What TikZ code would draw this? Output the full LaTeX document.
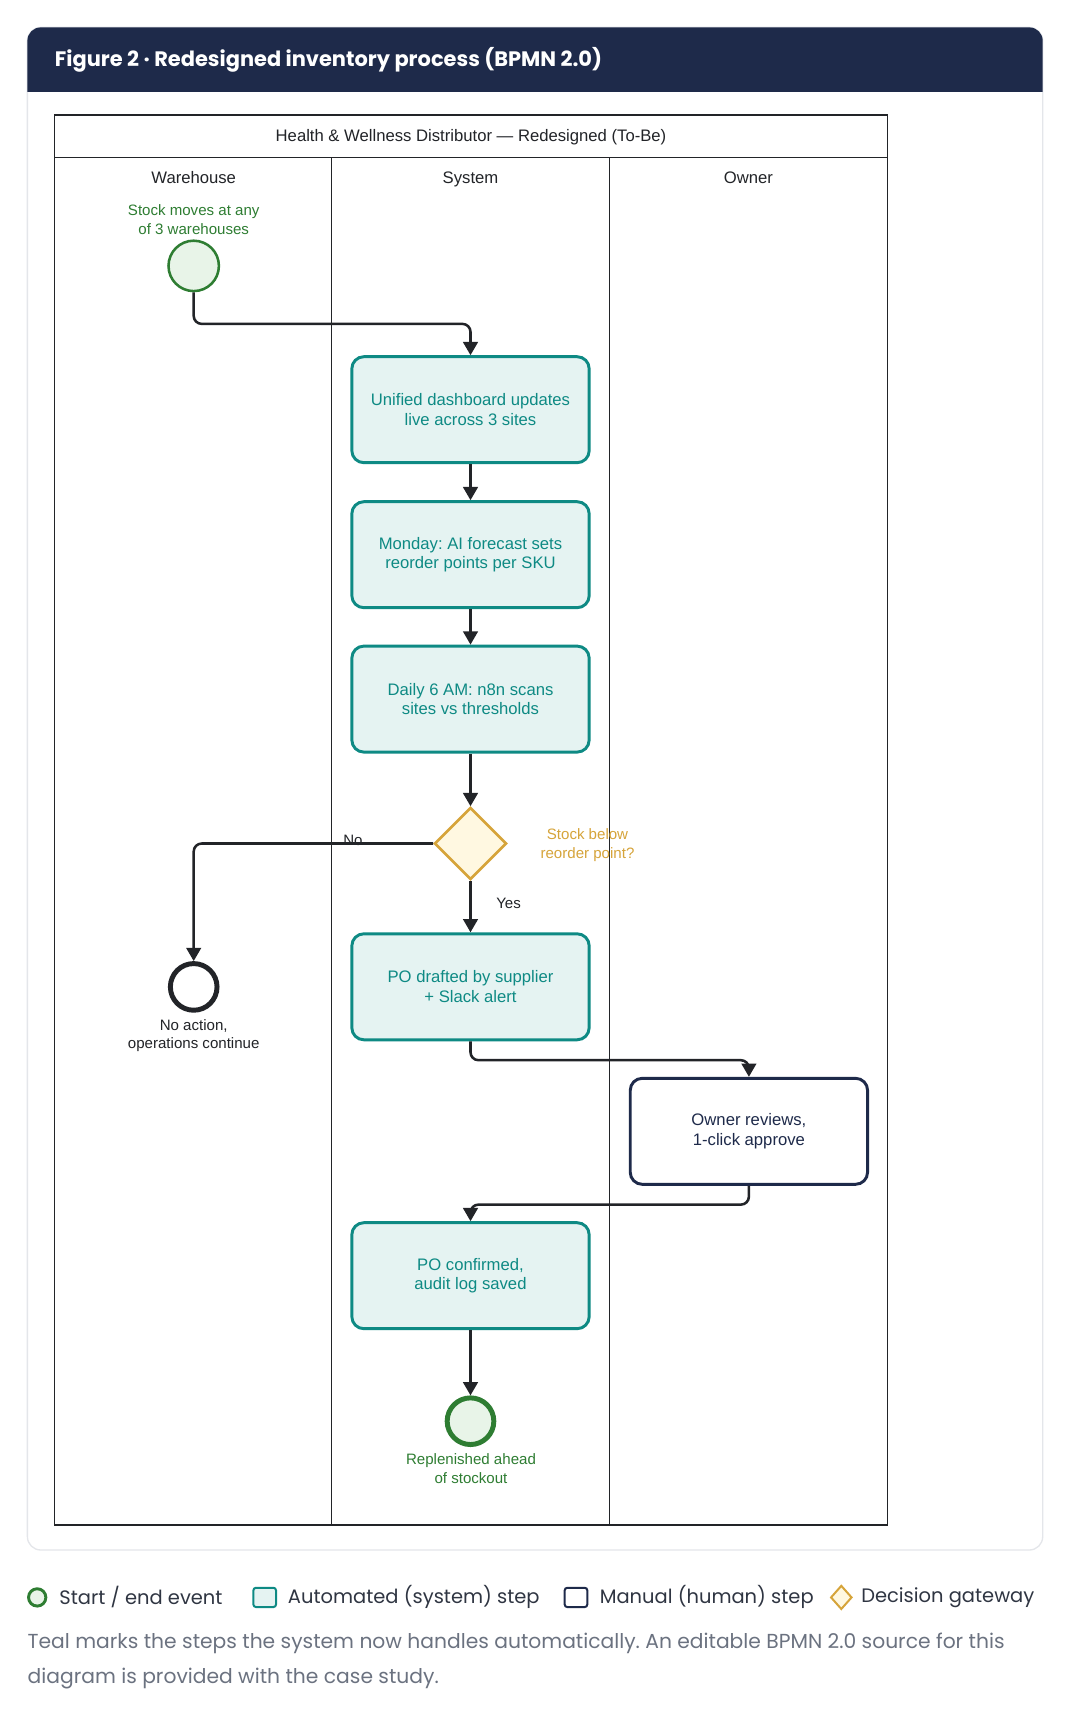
\documentclass[tikz,border=0pt]{standalone}
\usepackage{fontspec}
\setmainfont{Liberation Sans}
\newfontfamily\popfont{Poppins}
\usetikzlibrary{arrows.meta,shapes.geometric}
\frenchspacing
\definecolor{navy}{HTML}{1E2A4A}
\definecolor{tealc}{HTML}{0E8A84}
\definecolor{tealfill}{HTML}{E5F3F2}
\definecolor{greenc}{HTML}{2E7D32}
\definecolor{greenfill}{HTML}{E8F4E8}
\definecolor{goldc}{HTML}{D6A43A}
\definecolor{goldfill}{HTML}{FFF8E1}
\definecolor{ink}{HTML}{222428}
\definecolor{footgray}{HTML}{6B7280}
\definecolor{legtext}{HTML}{2F3542}
\definecolor{cardline}{HTML}{E4E6EA}
\tikzset{
  dtext/.style={font=\fontsize{12.5pt}{14.8pt}\selectfont, align=center, inner sep=0pt},
  evtext/.style={font=\fontsize{11.3pt}{14pt}\selectfont, align=center, inner sep=0pt},
  autobox/.style={draw=tealc, fill=tealfill, line width=2.2pt, rounded corners=9pt,
    minimum width=178pt, minimum height=79.5pt, text=tealc, dtext},
  manbox/.style={draw=navy, fill=white, line width=2.2pt, rounded corners=9pt,
    minimum width=178pt, minimum height=79.5pt, text=navy, dtext},
  startev/.style={circle, draw=greenc, fill=greenfill, line width=1.9pt, minimum size=37.8pt, inner sep=0pt},
  endgreen/.style={circle, draw=greenc, fill=greenfill, line width=3.7pt, minimum size=35pt, inner sep=0pt},
  endblack/.style={circle, draw=ink, fill=white, line width=3.7pt, minimum size=35pt, inner sep=0pt},
  gateway/.style={diamond, draw=goldc, fill=goldfill, line width=1.9pt, minimum width=54pt, minimum height=54pt, inner sep=0pt, aspect=1},
  conn/.style={draw=ink, line width=1.9pt, rounded corners=6pt, -{Triangle[length=10pt,width=11pt]}},
  poolline/.style={draw=ink, line width=1.1pt},
  lanelbl/.style={dtext, text=ink, anchor=base},
  legtxt/.style={font=\popfont\fontsize{14.6pt}{17pt}\selectfont, text=legtext, anchor=west, inner sep=0pt},
}
\begin{document}
\begin{tikzpicture}[x=0.75pt, y=-0.75pt]
\useasboundingbox (0,0) rectangle (1070,1715);
% card
\draw[cardline, fill=white, line width=1pt, rounded corners=10pt] (27.4,27.4) rectangle (1042.7,1550);
\begin{scope}
  \clip (20,20) rectangle (1050,91.9);
  \fill[navy, rounded corners=10pt] (27.4,27.4) rectangle (1042.7,130);
\end{scope}
\node[anchor=west, text=white, inner sep=0pt, font=\popfont\bfseries\fontsize{15.7pt}{18pt}\selectfont] (title) at (54.7,59.5) {Figure 2 · Redesigned inventory process (BPMN 2.0)};

% pool
\draw[poolline] (54.7,114.9) rectangle (887.3,1525.2);
\draw[poolline] (54.7,157.5) -- (887.3,157.5);
\draw[poolline] (331.5,157.5) -- (331.5,1525.2);
\draw[poolline] (609.4,157.5) -- (609.4,1525.2);
\node[lanelbl] (pooltitle) at (471,141.8) {Health \& Wellness Distributor — Redesigned (To-Be)};
\node[lanelbl] (lane1) at (193.7,183.2) {Warehouse};
\node[lanelbl] (lane2) at (470.5,183.2) {System};
\node[lanelbl] (lane3) at (748.4,183.2) {Owner};

% nodes
\node[evtext, text=greenc] (startlbl) at (193.7,219.5) {Stock moves at any\\of 3 warehouses};
\node[startev] (start) at (193.7,265.9) {};
\node[autobox] (b1) at (470.5,409.7) {Unified dashboard updates\\live across 3 sites};
\node[autobox] (b2) at (470.5,554.7) {Monday: AI forecast sets\\reorder points per SKU};
\node[autobox] (b3) at (470.5,699.1) {Daily 6 AM: n8n scans\\sites vs thresholds};
\node[gateway] (gw) at (470.5,843.5) {};
\node[evtext, text=goldc] (gwlbl) at (587.5,845.2) {Stock below\\reorder point?};
\node[autobox] (b4) at (470.5,986.8) {PO drafted by supplier\\+ Slack alert};
\node[manbox] (b5) at (748.9,1131.3) {Owner reviews,\\1-click approve};
\node[autobox] (b6) at (470.5,1275.7) {PO confirmed,\\audit log saved};
\node[endgreen] (endok) at (470.5,1421.2) {};
\node[evtext, text=greenc] (endoklbl) at (471,1468.8) {Replenished ahead\\of stockout};
\node[endblack] (endno) at (193.7,986.9) {};
\node[evtext, text=ink] (endnolbl) at (193.7,1035.6) {No action,\\operations continue};

% connectors
\coordinate (j1) at (0,323.9);
\coordinate (j2) at (0,1060.2);
\coordinate (j3) at (0,1204.6);
\draw[conn] (start.south) -- (start.south |- j1) -| (b1.north);
\draw[conn] (b1) -- (b2);
\draw[conn] (b2) -- (b3);
\draw[conn] (b3) -- (gw);
\draw[conn] (gw.west) -| (endno.north);
\draw[conn] (gw) -- (b4);
\draw[conn] (b4.south) -- (b4.south |- j2) -| (b5.north);
\draw[conn] (b5.south) -- (b5.south |- j3) -| (b6.north);
\draw[conn] (b6) -- (endok);
\node[evtext, text=ink, anchor=west] (nolbl) at (343,840.3) {No};
\node[evtext, text=ink, anchor=west] (yeslbl) at (496,903.7) {Yes};

% legend
\node[circle, draw=greenc, fill=greenfill, line width=2.2pt, minimum size=13pt, inner sep=0pt] (lg1) at (37.2,1597.4) {};
\node[legtxt] (lt1) at (59.1,1597.4) {Start / end event};
\node[draw=tealc, fill=tealfill, line width=1.5pt, rounded corners=2pt, minimum width=17pt, minimum height=14.5pt, inner sep=0pt] (lg2) at (264.7,1597.4) {};
\node[legtxt] (lt2) at (287.7,1597.4) {Automated (system) step};
\node[draw=navy, fill=white, line width=1.5pt, rounded corners=2pt, minimum width=17pt, minimum height=14.5pt, inner sep=0pt] (lg3) at (576,1597.4) {};
\node[legtxt] (lt3) at (599.5,1597.4) {Manual (human) step};
\node[diamond, draw=goldc, fill=goldfill, line width=1.5pt, minimum width=16pt, minimum height=18pt, inner sep=0pt] (lg4) at (841.3,1597.4) {};
\node[legtxt] (lt4) at (861,1597.4) {Decision gateway};
\node[anchor=north west, inner sep=0pt, text=footgray, align=left, font=\popfont\fontsize{15.2pt}{26.2pt}\selectfont] (foot) at (27.4,1633) {Teal marks the steps the system now handles automatically. An editable BPMN 2.0 source for this\\diagram is provided with the case study.};
\end{tikzpicture}
\end{document}
